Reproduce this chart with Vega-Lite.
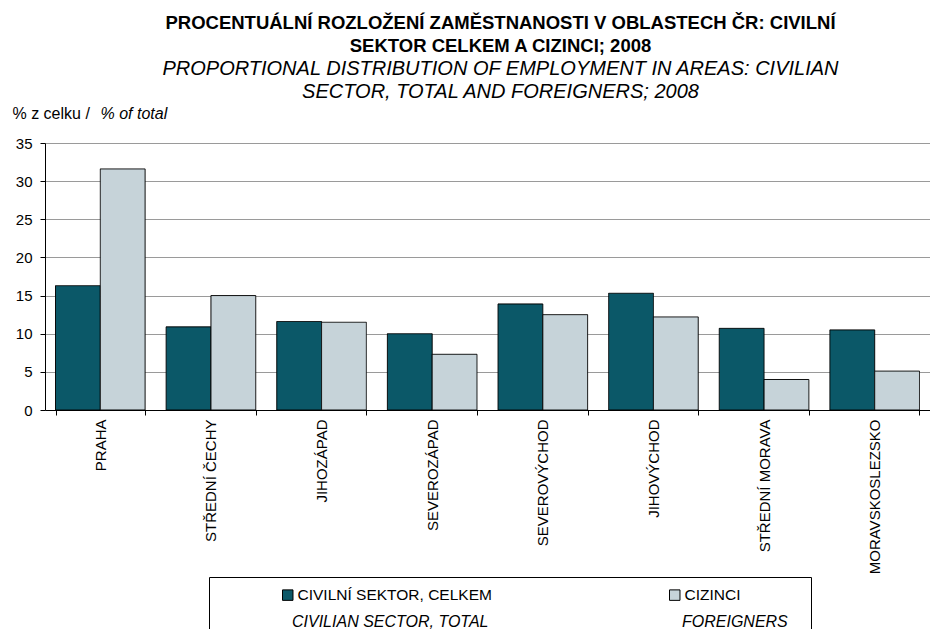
{
  "$schema": "https://vega.github.io/schema/vega-lite/v6.json",
  "autosize": "none",
  "width": 885,
  "height": 267,
  "padding": {"left": 45, "top": 143, "right": 0, "bottom": 219},
  "background": "white",
  "config": {
    "font": "Liberation Sans",
    "view": {"stroke": null},
    "axis": {"labelColor": "black", "titleColor": "black", "labelFont": "Liberation Sans", "titleFont": "Liberation Sans"}
  },
  "title": {
    "text": ["PROCENTUÁLNÍ ROZLOŽENÍ ZAMĚSTNANOSTI V OBLASTECH ČR: CIVILNÍ", "SEKTOR CELKEM A CIZINCI; 2008"],
    "subtitle": ["PROPORTIONAL DISTRIBUTION OF EMPLOYMENT IN AREAS:  CIVILIAN", "SECTOR, TOTAL AND FOREIGNERS; 2008"],
    "font": "Liberation Sans",
    "fontSize": 18.5,
    "fontWeight": "bold",
    "color": "black",
    "lineHeight": 23,
    "subtitleFont": "Liberation Sans",
    "subtitleFontSize": 20,
    "subtitleFontStyle": "italic",
    "subtitleColor": "black",
    "subtitleLineHeight": 23,
    "subtitlePadding": 3,
    "anchor": "middle",
    "dx": 13,
    "dy": 69,
    "offset": 12
  },
  "data": {
    "values": [
      {"region": "PRAHA", "series": "CIVILNÍ SEKTOR, CELKEM", "en": "CIVILIAN SECTOR, TOTAL", "value": 16.3},
      {"region": "PRAHA", "series": "CIZINCI", "en": "FOREIGNERS", "value": 31.6},
      {"region": "STŘEDNÍ ČECHY", "series": "CIVILNÍ SEKTOR, CELKEM", "en": "CIVILIAN SECTOR, TOTAL", "value": 10.9},
      {"region": "STŘEDNÍ ČECHY", "series": "CIZINCI", "en": "FOREIGNERS", "value": 15.0},
      {"region": "JIHOZÁPAD", "series": "CIVILNÍ SEKTOR, CELKEM", "en": "CIVILIAN SECTOR, TOTAL", "value": 11.6},
      {"region": "JIHOZÁPAD", "series": "CIZINCI", "en": "FOREIGNERS", "value": 11.5},
      {"region": "SEVEROZÁPAD", "series": "CIVILNÍ SEKTOR, CELKEM", "en": "CIVILIAN SECTOR, TOTAL", "value": 10.0},
      {"region": "SEVEROZÁPAD", "series": "CIZINCI", "en": "FOREIGNERS", "value": 7.3},
      {"region": "SEVEROVÝCHOD", "series": "CIVILNÍ SEKTOR, CELKEM", "en": "CIVILIAN SECTOR, TOTAL", "value": 13.9},
      {"region": "SEVEROVÝCHOD", "series": "CIZINCI", "en": "FOREIGNERS", "value": 12.5},
      {"region": "JIHOVÝCHOD", "series": "CIVILNÍ SEKTOR, CELKEM", "en": "CIVILIAN SECTOR, TOTAL", "value": 15.3},
      {"region": "JIHOVÝCHOD", "series": "CIZINCI", "en": "FOREIGNERS", "value": 12.2},
      {"region": "STŘEDNÍ MORAVA", "series": "CIVILNÍ SEKTOR, CELKEM", "en": "CIVILIAN SECTOR, TOTAL", "value": 10.7},
      {"region": "STŘEDNÍ MORAVA", "series": "CIZINCI", "en": "FOREIGNERS", "value": 4.0},
      {"region": "MORAVSKOSLEZSKO", "series": "CIVILNÍ SEKTOR, CELKEM", "en": "CIVILIAN SECTOR, TOTAL", "value": 10.5},
      {"region": "MORAVSKOSLEZSKO", "series": "CIZINCI", "en": "FOREIGNERS", "value": 5.1}
    ]
  },
  "layer": [
    {
      "mark": {"type": "bar", "stroke": "black", "strokeWidth": 1},
      "encoding": {
        "x": {
          "field": "region", "type": "nominal",
          "sort": ["PRAHA", "STŘEDNÍ ČECHY", "JIHOZÁPAD", "SEVEROZÁPAD", "SEVEROVÝCHOD", "JIHOVÝCHOD", "STŘEDNÍ MORAVA", "MORAVSKOSLEZSKO"],
          "scale": {"paddingInner": 0.19, "paddingOuter": 0.095},
          "axis": {"title": null, "labelAngle": -90, "labelFontSize": 15, "tickBand": "extent", "tickSize": 5, "tickColor": "black", "domainColor": "black", "labelPadding": 4, "grid": false, "labelLimit": 300}
        },
        "xOffset": {"field": "series", "type": "nominal", "sort": ["CIVILNÍ SEKTOR, CELKEM", "CIZINCI"]},
        "y": {
          "field": "value", "type": "quantitative",
          "scale": {"domain": [0, 35], "nice": false},
          "axis": {"values": [0, 5, 10, 15, 20, 25, 30, 35], "labelFontSize": 15, "labelPadding": 8, "tickSize": 5, "tickColor": "black", "domainColor": "black", "gridColor": "#9a9a9a", "gridWidth": 1,
            "title": "% z celku /", "titleAngle": 0, "titleAlign": "left", "titleBaseline": "alphabetic", "titleFontWeight": "normal", "titleFontSize": 16, "titleX": -33, "titleY": -25}
        },
        "color": {
          "field": "series", "type": "nominal",
          "scale": {"domain": ["CIVILNÍ SEKTOR, CELKEM", "CIZINCI"], "range": ["#0B5868", "#C6D3D9"]},
          "legend": {
            "orient": "none", "legendX": 164, "legendY": 434, "direction": "horizontal",
            "title": " ", "titleOrient": "left", "titlePadding": 61, "titleFontSize": 15,
            "strokeColor": "black", "padding": 10,
            "symbolType": "square", "symbolSize": 110, "symbolStrokeColor": "black", "symbolStrokeWidth": 1, "symbolOpacity": 1,
            "labelFont": "Liberation Sans", "labelFontSize": 15.5, "labelColor": "black", "labelLimit": 500, "labelOffset": 2,
            "columnPadding": 175,
            "labelExpr": "datum.label == 'CIZINCI' ? ['CIZINCI\u00a0\u00a0\u00a0\u00a0\u00a0\u00a0\u00a0\u00a0\u00a0\u00a0\u00a0\u00a0\u00a0\u00a0\u200b', ' ', ' '] : [datum.label, ' ', ' ']",
            "encode": {"labels": {"update": {"lineHeight": {"value": 18}}}}
          }
        },
        "strokeDash": {
          "field": "en", "type": "nominal",
          "scale": {"domain": ["CIVILIAN SECTOR, TOTAL", "FOREIGNERS"], "range": [[1, 0], [1, 0]]},
          "legend": {
            "orient": "none", "legendX": 231, "legendY": 471, "direction": "horizontal",
            "title": null, "padding": 0,
            "symbolOpacity": 0, "symbolStrokeWidth": 0, "symbolSize": 16,
            "labelFont": "Liberation Sans", "labelFontSize": 16, "labelFontStyle": "italic", "labelColor": "black", "labelLimit": 500, "labelOffset": 0,
            "columnPadding": 177
          }
        }
      }
    },
    {
      "mark": {"type": "bar", "opacity": 0},
      "encoding": {
        "x": {"field": "region", "type": "nominal", "sort": ["PRAHA", "STŘEDNÍ ČECHY", "JIHOZÁPAD", "SEVEROZÁPAD", "SEVEROVÝCHOD", "JIHOVÝCHOD", "STŘEDNÍ MORAVA", "MORAVSKOSLEZSKO"]},
        "y": {
          "field": "value", "type": "quantitative",
          "axis": {"orient": "left", "labels": false, "ticks": false, "domain": false, "grid": false,
            "title": "% of total", "titleFontStyle": "italic", "titleFontWeight": "normal", "titleFontSize": 16, "titleAngle": 0, "titleAlign": "left", "titleBaseline": "alphabetic", "titleX": 55, "titleY": -25}
        }
      }
    }
  ],
  "resolve": {"axis": {"y": "independent"}}
}
